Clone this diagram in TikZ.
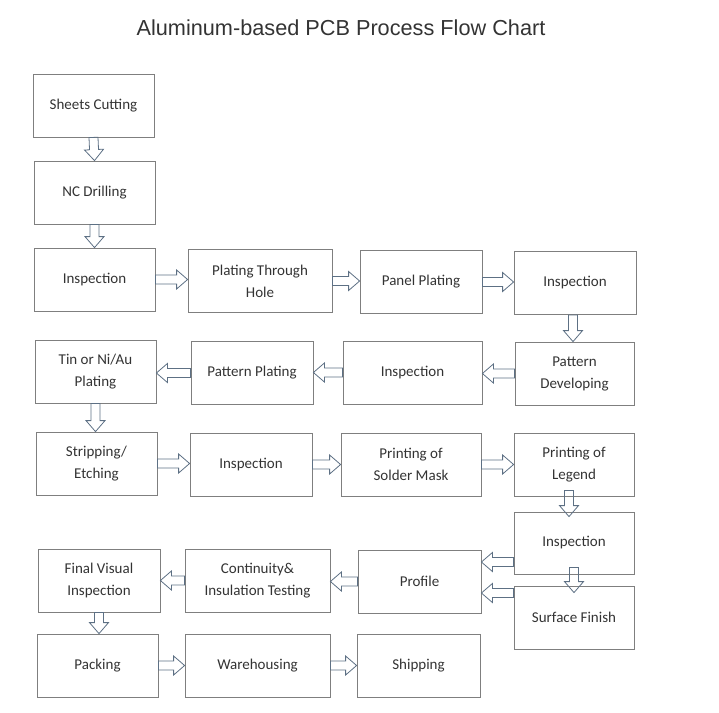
\documentclass[tikz,border=0pt]{standalone}
\usepackage{fontspec}
\setmainfont{Carlito}
\newfontfamily\titlefont{Liberation Sans}
\usetikzlibrary{calc}
\definecolor{boxgray}{HTML}{7F7F7F}
\definecolor{arrowgray}{HTML}{5D7084}
\definecolor{textgray}{HTML}{333333}
\tikzset{
  stepbox/.style={draw=boxgray, line width=0.8pt, minimum width=121pt, minimum height=63pt,
    align=center, text=textgray, inner sep=2pt, font=\fontsize{15}{22}\selectfont},
  blk/.style={draw=arrowgray, line width=0.8pt, line join=miter,
    to path={
      ($(\tikztostart)!4.5pt!90:(\tikztotarget)$)
      -- ($($(\tikztotarget)!11pt!(\tikztostart)$)!4.5pt!90:(\tikztotarget)$)
      -- ($($(\tikztotarget)!11pt!(\tikztostart)$)!9.5pt!90:(\tikztotarget)$)
      -- (\tikztotarget)
      -- ($($(\tikztotarget)!11pt!(\tikztostart)$)!9.5pt!-90:(\tikztotarget)$)
      -- ($($(\tikztotarget)!11pt!(\tikztostart)$)!4.5pt!-90:(\tikztotarget)$)
      -- ($(\tikztostart)!4.5pt!-90:(\tikztotarget)$)
      -- cycle}}
}
\begin{document}
\begin{tikzpicture}[x=1pt,y=-1pt]
\useasboundingbox (0,0) rectangle (719,712);
\node[text=textgray, font=\titlefont\fontsize{21.7}{26}\selectfont] (title) at (341,28) {Aluminum-based PCB Process Flow Chart};
% first column and row
\node[stepbox] (sc) at (93.5,105.5) {Sheets Cutting};
\node[stepbox] (ncd) at (94.5,192.5) {NC Drilling};
\node[stepbox] (ins1) at (94.5,279.5) {Inspection};
\node[stepbox, minimum width=144pt] (pth) at (260,281) {Plating Through\\Hole};
\node[stepbox, minimum width=122pt] (pp) at (421,282) {Panel Plating};
\node[stepbox, minimum width=122pt] (ins2) at (575,283) {Inspection};
% back to the left
\node[stepbox, minimum width=119pt] (pd) at (574.5,373.5) {Pattern\\Developing};
\node[stepbox, minimum width=139pt] (ins3) at (412.5,372.5) {Inspection};
\node[stepbox, minimum width=122pt] (patp) at (252,373) {Pattern Plating};
\node[stepbox] (tin) at (95.5,371.5) {Tin or Ni/Au\\Plating};
% to the right again
\node[stepbox] (se) at (96.5,463.5) {Stripping/\\Etching};
\node[stepbox, minimum width=122pt] (ins4) at (251,464.5) {Inspection};
\node[stepbox, minimum width=140pt] (psm) at (411,464.5) {Printing of\\Solder Mask};
\node[stepbox, minimum width=120pt] (pl) at (574,464.5) {Printing of\\Legend};
\node[stepbox, minimum width=120pt, minimum height=62pt] (ins5) at (574,543) {Inspection};
\node[stepbox, minimum width=120pt] (sf) at (574,617.5) {Surface Finish};
% last rows
\node[stepbox, minimum width=123pt] (prof) at (419.5,581.5) {Profile};
\node[stepbox, minimum width=145pt] (cit) at (257.5,580.5) {Continuity\&\\Insulation Testing};
\node[stepbox, minimum width=122pt] (fvi) at (99,580.5) {Final Visual\\Inspection};
\node[stepbox] (pk) at (97.5,665.5) {Packing};
\node[stepbox, minimum width=145pt] (wh) at (257.5,665.5) {Warehousing};
\node[stepbox, minimum width=123pt] (sh) at (418.5,665.5) {Shipping};
% free ends of the overlapping arrows
\coordinate (pls) at ([xshift=-5pt, yshift=6pt]pl.south);
\coordinate (ins5n) at ([xshift=-5pt, yshift=-5pt]ins5.north);
\coordinate (ins5s) at ([yshift=7pt]ins5.south);
\coordinate (sfn) at ([yshift=-7pt]sf.north);
\coordinate (ins5w) at ([yshift=-19pt]ins5.west);
\coordinate (proe1) at (prof.east |- ins5w);
\coordinate (sfw) at ([yshift=24.5pt]sf.west);
\coordinate (proe2) at ([yshift=-11.5pt]prof.east);
\draw[blk] (sc.south) to (ncd.north);
\draw[blk] (ncd.south) to (ins1.north);
\draw[blk] (ins1.east) to (ins1.east -| pth.west);
\draw[blk] (pth.east) to (pth.east -| pp.west);
\draw[blk] (pp.east) to (pp.east -| ins2.west);
\draw[blk] ([xshift=-2pt]ins2.south) to ([xshift=-2pt]ins2.south |- pd.north);
\draw[blk] (pd.west) to (pd.west -| ins3.east);
\draw[blk] (ins3.west) to (ins3.west -| patp.east);
\draw[blk] (patp.west) to (patp.west -| tin.east);
\draw[blk] (tin.south) to (tin.south |- se.north);
\draw[blk] (se.east) to (se.east -| ins4.west);
\draw[blk] (ins4.east) to (ins4.east -| psm.west);
\draw[blk] (psm.east) to (psm.east -| pl.west);
\draw[blk] (pls) to (ins5n);
\draw[blk] (ins5s) to (sfn);
\draw[blk] (ins5w) to (proe1);
\draw[blk] (sfw) to (proe2);
\draw[blk] (prof.west) to (prof.west -| cit.east);
\draw[blk] (cit.west) to (cit.west -| fvi.east);
\draw[blk] (fvi.south) to (fvi.south |- pk.north);
\draw[blk] (pk.east) to (pk.east -| wh.west);
\draw[blk] (wh.east) to (wh.east -| sh.west);
\end{tikzpicture}
\end{document}
